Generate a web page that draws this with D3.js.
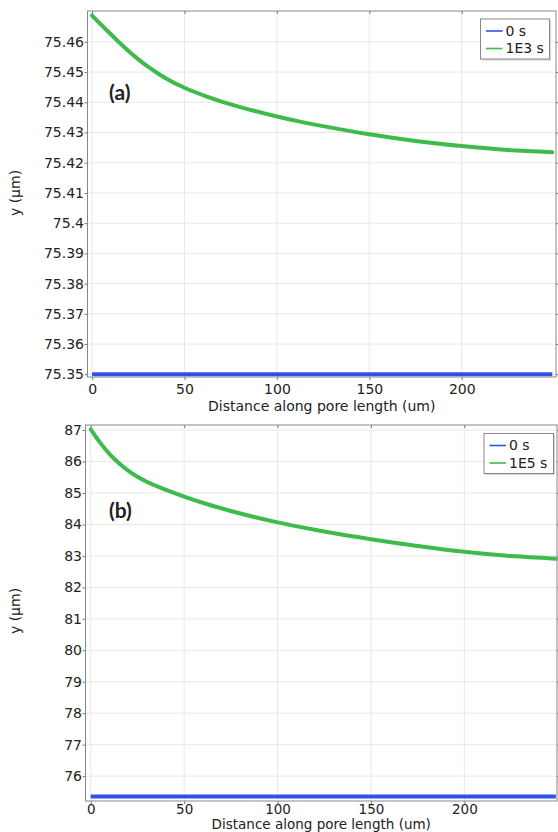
<!DOCTYPE html>
<html>
<head>
<meta charset="utf-8">
<script src="https://cdn.jsdelivr.net/npm/d3@7"></script>
<style>
body{margin:0;background:#fff;}
text{font-family:"DejaVu Sans",sans-serif;fill:#222;}
</style>
</head>
<body>
<div id="chart"></div>
<script>
// distance along pore length (um), shared by both panels
var distance = [0,5,10,15,20,25,30,40,50,62.5,75,87.5,100,112.5,125,150,175,200,225,249];
var distanceFlat = [0,249];

// panel (a): y (um) at 0 s and 1E3 s
var yA_0s  = [75.35,75.35];
var yA_1e3 = [75.4687,75.4656,75.4626,75.4596,75.4568,75.4542,75.4519,75.4479,75.4448,75.4418,
              75.4393,75.4372,75.4353,75.4336,75.4321,75.4294,75.4272,75.4255,75.4242,75.4235];

// panel (b): y (um) at 0 s and 1E5 s
var yB_0s  = [75.35,75.35];
var yB_1e5 = [87.02,86.6,86.245,85.95,85.71,85.515,85.355,85.105,84.885,84.641,
              84.426,84.236,84.066,83.914,83.775,83.53,83.315,83.13,82.993,82.913];

var xTicks  = [0,50,100,150,200];
var yTicksA = [75.35,75.36,75.37,75.38,75.39,75.4,75.41,75.42,75.43,75.44,75.45,75.46];
var yTicksB = [76,77,78,79,80,81,82,83,84,85,86,87];
var namesA = ["0 s","1E3 s"];
var namesB = ["0 s","1E5 s"];
var colors = ["#2f50ec","#3dbb4b"];

var svg = d3.select("#chart").append("svg")
    .attr("width",558)
    .attr("height",832);

var panels = [
  {label:"(a)", left:87.5, right:556, top:11, bottom:377,
   xDomain:[-2.5,251], yDomain:[75.3491,75.4702], yTicks:yTicksA,
   flat:yA_0s, curve:yA_1e3, names:namesA,
   tickPad:4, xFont:14, titleY:411, yTitleY:193, labelX:109, labelY:100,
   legend:{x:480.5, y:19, w:69, h:40}},
  {label:"(b)", left:85.5, right:557, top:425, bottom:801,
   xDomain:[-2.8,249.6], yDomain:[75.21,87.16], yTicks:yTicksB,
   flat:yB_0s, curve:yB_1e5, names:namesB,
   tickPad:0.5, xFont:13.5, titleY:828.5, yTitleY:611, labelX:109, labelY:518,
   legend:{x:484, y:433.5, w:69.5, h:40}}
];

panels.forEach(drawPanel);

function drawPanel(p){
  var x = d3.scaleLinear().domain(p.xDomain).range([p.left,p.right]);
  var y = d3.scaleLinear().domain(p.yDomain).range([p.bottom,p.top]);
  var g = svg.append("g");

  // grid
  g.selectAll(".gx").data(xTicks).enter().append("line")
    .attr("x1",function(d){return x(d);}).attr("x2",function(d){return x(d);})
    .attr("y1",p.top).attr("y2",p.bottom)
    .attr("stroke","#e8e8e8");
  g.selectAll(".gy").data(p.yTicks).enter().append("line")
    .attr("y1",function(d){return y(d);}).attr("y2",function(d){return y(d);})
    .attr("x1",p.left).attr("x2",p.right)
    .attr("stroke","#e8e8e8");

  // series
  var line = d3.line()
    .x(function(d){return x(d[0]);})
    .y(function(d){return y(d[1]);})
    .curve(d3.curveMonotoneX);

  g.append("path")
    .datum(d3.zip(distanceFlat,p.flat))
    .attr("d",line)
    .attr("fill","none")
    .attr("stroke",colors[0])
    .attr("stroke-width",4);

  g.append("path")
    .datum(d3.zip(distance,p.curve))
    .attr("d",line)
    .attr("fill","none")
    .attr("stroke",colors[1])
    .attr("stroke-width",4)
    .attr("stroke-linecap","round");

  // axes
  var yAxis = g.append("g")
    .attr("transform","translate("+p.left+",0)")
    .call(d3.axisLeft(y).tickValues(p.yTicks).tickSize(3).tickPadding(0.5)
      .tickFormat(function(d){return String(d);}));
  var xAxis = g.append("g")
    .attr("transform","translate(0,"+p.bottom+")")
    .call(d3.axisBottom(x).tickValues(xTicks).tickSize(3).tickPadding(p.tickPad));
  var yRight = g.append("g")
    .attr("transform","translate("+p.right+",0)")
    .call(d3.axisRight(y).tickValues(p.yTicks).tickSize(3).tickFormat(""));
  var xTop = g.append("g")
    .attr("transform","translate(0,"+p.top+")")
    .call(d3.axisBottom(x).tickValues(xTicks).tickSize(3).tickFormat(""));

  [yAxis,xAxis,yRight,xTop].forEach(function(a){
    a.select(".domain").remove();
    a.selectAll("line").attr("stroke","#777");
    a.selectAll("text").style("font-size","14px").attr("fill","#222");
  });
  xAxis.selectAll("text").style("font-size",p.xFont+"px");

  // frame
  g.append("rect")
    .attr("x",p.left).attr("y",p.top)
    .attr("width",p.right-p.left).attr("height",p.bottom-p.top)
    .attr("fill","none").attr("stroke","#888");

  // titles
  g.append("text")
    .attr("x",(p.left+p.right)/2).attr("y",p.titleY)
    .attr("text-anchor","middle")
    .style("font-size",p.xFont+"px")
    .text("Distance along pore length (um)");
  g.append("text")
    .attr("transform","translate(20,"+p.yTitleY+") rotate(-90)")
    .attr("text-anchor","middle")
    .style("font-size","14px")
    .text("y (µm)");

  g.append("text")
    .attr("x",p.labelX).attr("y",p.labelY)
    .style("font-family","Lato, 'Open Sans', sans-serif")
    .style("font-weight","bold")
    .style("font-size","21px")
    .text(p.label);

  // legend
  var L = p.legend;
  g.append("rect")
    .attr("x",L.x+1.5).attr("y",L.y+1.5).attr("width",L.w).attr("height",L.h)
    .attr("fill","#d4d4d4");
  g.append("rect")
    .attr("x",L.x).attr("y",L.y).attr("width",L.w).attr("height",L.h)
    .attr("fill","#fff").attr("stroke","#888");
  var items = g.selectAll(".leg").data(p.names).enter().append("g")
    .attr("transform",function(d,i){return "translate("+L.x+","+(L.y+12+i*17.5)+")";});
  items.append("line")
    .attr("x1",5.5).attr("x2",22)
    .attr("stroke",function(d,i){return colors[i];})
    .attr("stroke-width",1.6);
  items.append("text")
    .attr("x",25).attr("dy","0.35em")
    .style("font-size","14px")
    .text(function(d){return d;});
}
</script>
</body>
</html>
